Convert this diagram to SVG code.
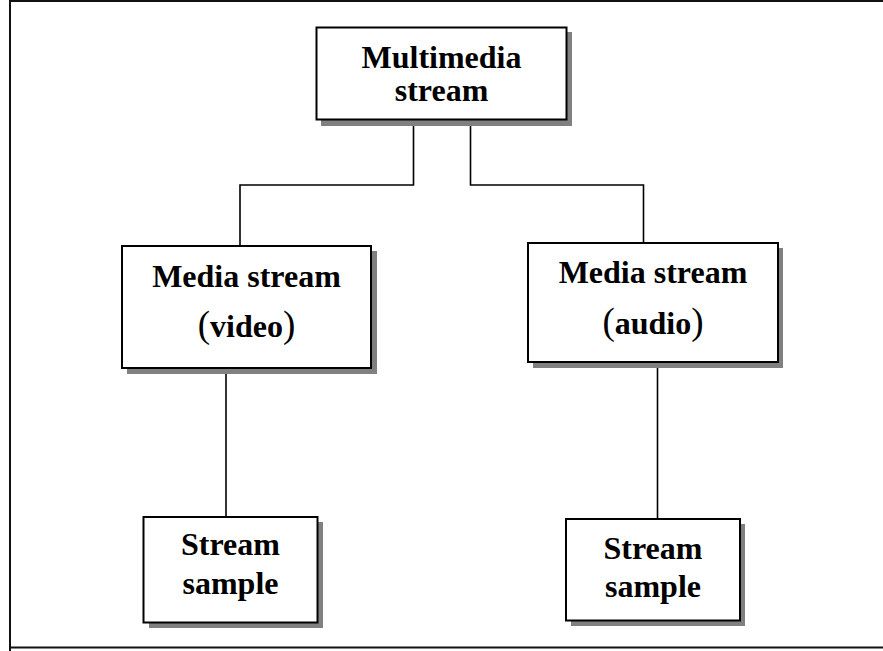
<svg xmlns="http://www.w3.org/2000/svg" width="883" height="651" viewBox="0 0 883 651">
<style>
.shadow{fill:#808080;stroke:none}
.box{fill:#fff;stroke:#000;stroke-width:2}
.lbl{font-family:"Liberation Serif","Times New Roman",serif;font-weight:bold;font-size:32px;fill:#000;text-anchor:middle}
.par{font-weight:normal;font-size:37px}
.conn{fill:none;stroke:#000;stroke-width:1.6}
</style>
<rect width="883" height="651" fill="#fff"/>
<path d="M10,660 L10,1 L890,1 M9,647.5 L890,647.5" fill="none" stroke="#111" stroke-width="2"/>
<g id="connectors">
<path class="conn" d="M413.5,124 V185 H240 V245"/>
<path class="conn" d="M470.5,124 V185 H643.5 V242"/>
<path class="conn" d="M226,369 V516"/>
<path class="conn" d="M657.5,363 V519"/>
</g>
<g id="multimedia">
<rect class="shadow" x="321" y="32" width="251" height="94"/>
<rect class="box" x="316.5" y="27.5" width="250" height="92"/>
<text class="lbl" x="441.5" y="68">Multimedia</text>
<text class="lbl" x="441.5" y="101">stream</text>
</g>
<g id="video">
<rect class="shadow" x="127" y="251" width="250" height="123"/>
<rect class="box" x="122" y="246" width="249" height="122"/>
<text class="lbl" x="246.5" y="287">Media stream</text>
<text class="lbl" x="246.5" y="337"><tspan class="par">(</tspan>video<tspan class="par">)</tspan></text>
</g>
<g id="audio">
<rect class="shadow" x="533" y="248" width="250" height="120"/>
<rect class="box" x="528" y="243" width="250" height="119"/>
<text class="lbl" x="653" y="283">Media stream</text>
<text class="lbl" x="653" y="334"><tspan class="par">(</tspan>audio<tspan class="par">)</tspan></text>
</g>
<g id="sample-video">
<rect class="shadow" x="149" y="522" width="174" height="106"/>
<rect class="box" x="143.5" y="517" width="174" height="105.5"/>
<text class="lbl" x="230.5" y="555">Stream</text>
<text class="lbl" x="230.5" y="594">sample</text>
</g>
<g id="sample-audio">
<rect class="shadow" x="571" y="524" width="174" height="102"/>
<rect class="box" x="566" y="519" width="174" height="101.5"/>
<text class="lbl" x="653" y="559">Stream</text>
<text class="lbl" x="653" y="597">sample</text>
</g>
</svg>
